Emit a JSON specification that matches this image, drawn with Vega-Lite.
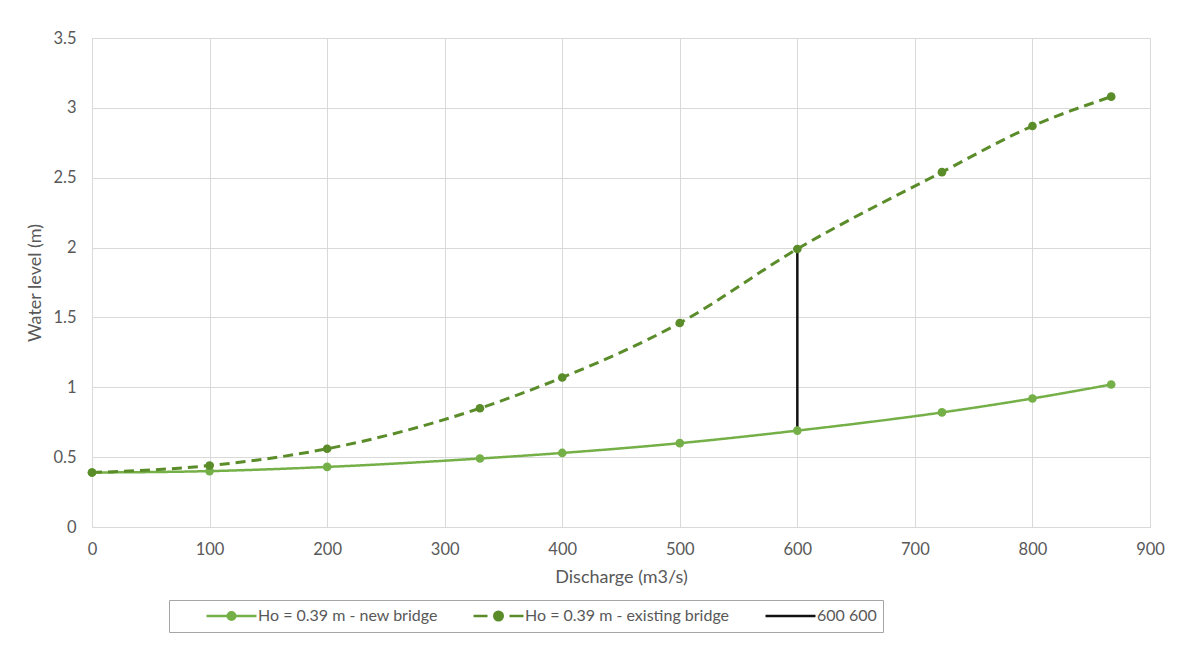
{
  "$schema": "https://vega.github.io/schema/vega-lite/v6.json",
  "width": 1058,
  "height": 489,
  "autosize": {"type": "none"},
  "padding": {"left": 92, "top": 38, "right": 38, "bottom": 132},
  "background": "white",
  "data": {"values": [
    {"series": "Ho = 0.39 m - new bridge", "discharge": 0, "level": 0.39},
    {"series": "Ho = 0.39 m - new bridge", "discharge": 100, "level": 0.40},
    {"series": "Ho = 0.39 m - new bridge", "discharge": 200, "level": 0.43},
    {"series": "Ho = 0.39 m - new bridge", "discharge": 330, "level": 0.49},
    {"series": "Ho = 0.39 m - new bridge", "discharge": 400, "level": 0.53},
    {"series": "Ho = 0.39 m - new bridge", "discharge": 500, "level": 0.60},
    {"series": "Ho = 0.39 m - new bridge", "discharge": 600, "level": 0.69},
    {"series": "Ho = 0.39 m - new bridge", "discharge": 723, "level": 0.82},
    {"series": "Ho = 0.39 m - new bridge", "discharge": 800, "level": 0.92},
    {"series": "Ho = 0.39 m - new bridge", "discharge": 867, "level": 1.02},
    {"series": "Ho = 0.39 m - existing bridge", "discharge": 0, "level": 0.39},
    {"series": "Ho = 0.39 m - existing bridge", "discharge": 100, "level": 0.44},
    {"series": "Ho = 0.39 m - existing bridge", "discharge": 200, "level": 0.56},
    {"series": "Ho = 0.39 m - existing bridge", "discharge": 330, "level": 0.85},
    {"series": "Ho = 0.39 m - existing bridge", "discharge": 400, "level": 1.07},
    {"series": "Ho = 0.39 m - existing bridge", "discharge": 500, "level": 1.46},
    {"series": "Ho = 0.39 m - existing bridge", "discharge": 600, "level": 1.99},
    {"series": "Ho = 0.39 m - existing bridge", "discharge": 723, "level": 2.54},
    {"series": "Ho = 0.39 m - existing bridge", "discharge": 800, "level": 2.87},
    {"series": "Ho = 0.39 m - existing bridge", "discharge": 867, "level": 3.08},
    {"series": "600 600", "discharge": 600, "level": 0.69},
    {"series": "600 600", "discharge": 600, "level": 1.99}
  ]},
  "encoding": {
    "x": {"field": "discharge", "type": "quantitative", "title": "Discharge (m3/s)",
      "scale": {"domain": [0, 900], "nice": false},
      "axis": {"values": [0,100,200,300,400,500,600,700,800,900], "labelPadding": 14, "titlePadding": 11, "labelFlush": false}},
    "y": {"field": "level", "type": "quantitative", "title": "Water level (m)",
      "scale": {"domain": [0, 3.5], "nice": false},
      "axis": {"values": [0,0.5,1,1.5,2,2.5,3,3.5], "format": "~g", "labelPadding": 16, "titlePadding": 8}},
    "color": {"field": "series", "type": "nominal",
      "scale": {"domain": ["Ho = 0.39 m - new bridge", "Ho = 0.39 m - existing bridge", "600 600"],
                "range": ["#74B047", "#5B8C2A", "#111111"]},
      "legend": {
        "orient": "none", "legendX": 77, "legendY": 562, "direction": "horizontal", "title": null,
        "strokeColor": "#a6a6a6", "padding": 6, "symbolSize": 2500, "clipHeight": 20,
        "symbolOffset": 30, "labelOffset": 0, "columnPadding": 4, "labelLimit": 400,
        "labelFont": "Lato", "labelFontSize": 16, "labelColor": "#595959",
        "labelExpr": "datum.label === '600 600' ? '600 600\u2003' : datum.label",
        "encode": {"symbols": {"update": {
          "shape": {"signal": "datum.value === '600 600' ? 'M-1,0L1,0' : datum.value === 'Ho = 0.39 m - existing bridge' ? 'M-1,0L-0.44,0M0.44,0L1,0M-0.17,0A0.17,0.17 0 1,1 0.17,0A0.17,0.17 0 1,1 -0.17,0Z' : 'M-1,0L1,0M-0.15,0A0.15,0.15 0 1,1 0.15,0A0.15,0.15 0 1,1 -0.15,0Z'"},
          "fill": {"signal": "datum.value === '600 600' ? 'transparent' : scale('color', datum.value)"},
          "stroke": {"signal": "scale('color', datum.value)"},
          "strokeWidth": {"value": 2.5},
          "strokeDash": {"value": []},
          "opacity": {"value": 1}
        }}}
      }}
  },
  "layer": [
    {
      "transform": [{"filter": "datum.series !== '600 600'"}],
      "mark": {"type": "line", "interpolate": "monotone"},
      "encoding": {
        "strokeDash": {"field": "series", "type": "nominal", "legend": null,
          "scale": {"domain": ["Ho = 0.39 m - new bridge", "Ho = 0.39 m - existing bridge"], "range": [[1, 0], [10, 6]]}},
        "strokeWidth": {"field": "series", "type": "nominal", "legend": null,
          "scale": {"domain": ["Ho = 0.39 m - new bridge", "Ho = 0.39 m - existing bridge"], "range": [2.5, 3]}}
      }
    },
    {
      "transform": [{"filter": "datum.series === '600 600'"}],
      "mark": {"type": "line", "strokeWidth": 2.5},
      "encoding": {}
    },
    {
      "transform": [{"filter": "datum.series !== '600 600'"}],
      "mark": {"type": "point", "filled": true, "size": 75, "opacity": 1},
      "encoding": {}
    }
  ],
  "config": {
    "view": {"stroke": null},
    "axis": {
      "gridColor": "#d9d9d9", "domainColor": "#d9d9d9", "ticks": false,
      "labelFont": "Lato", "labelFontSize": 16.5, "labelColor": "#595959",
      "titleFont": "Lato", "titleFontSize": 18, "titleColor": "#595959", "titleFontWeight": "normal"
    }
  }
}
